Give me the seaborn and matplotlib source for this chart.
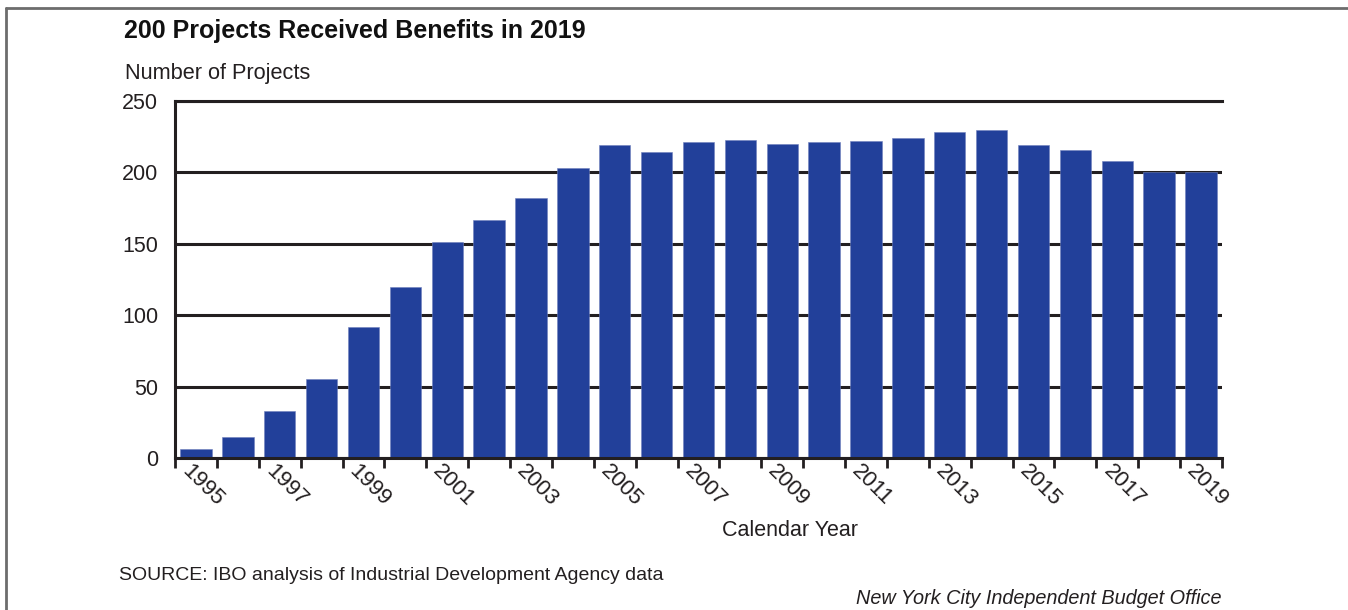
import matplotlib
matplotlib.use("Agg")
import matplotlib.pyplot as plt
from matplotlib.lines import Line2D
import seaborn as sns
import pandas as pd

# Projects receiving IDA benefits by calendar year
years = [str(y) for y in range(1995, 2020)]
projects = [6, 15, 33, 55, 92, 120, 151, 167, 182, 203, 219, 214, 221, 223,
            220, 221, 222, 224, 228, 230, 219, 216, 208, 200, 200]
labeled_years = years[::2]

title = "200 Projects Received Benefits in 2019"
y_title = "Number of Projects"
x_title = "Calendar Year"
source = "SOURCE: IBO analysis of Industrial Development Agency data"
credit = "New York City Independent Budget Office"

bar_color = "#22409a"
ink = "#231f20"

sns.set_theme(style="white")
plt.rcParams["font.family"] = ["Liberation Sans", "DejaVu Sans"]

df = pd.DataFrame({"year": years, "projects": projects})

fig = plt.figure(figsize=(13.48, 6.10), dpi=100)
ax = fig.add_axes([175 / 1348, 1 - 458 / 610, (1222 - 175) / 1348, (458 - 101) / 610])

sns.barplot(data=df, x="year", y="projects", color=bar_color, saturation=1,
            width=0.75, ax=ax, edgecolor="#6f80bd", linewidth=0.4, zorder=2)

ax.set_xlim(-0.5, len(years) - 0.5)
ax.set_ylim(0, 250)
ax.set_yticks([0, 50, 100, 150, 200, 250])
ax.set_axisbelow(True)
ax.yaxis.grid(True, color=ink, linewidth=2.2)
ax.tick_params(axis="y", length=0, pad=12, labelsize=15.5, labelcolor=ink)

# tick marks at the bar boundaries, labels on every other year
ax.set_xticks([i - 0.5 for i in range(len(years) + 1)])
ax.set_xticklabels([])
ax.tick_params(axis="x", direction="out", length=7, width=2, color=ink, bottom=True)
ax.set_xlabel("")
ax.set_ylabel("")
for i, yr in enumerate(years):
    if yr in labeled_years:
        ax.text(i - 0.44, -0.008, yr, transform=ax.get_xaxis_transform(),
                rotation=-45, ha="left", va="top", fontsize=16, color=ink)

for side in ["left", "bottom", "top"]:
    ax.spines[side].set_visible(True)
    ax.spines[side].set_color(ink)
    ax.spines[side].set_linewidth(2.2)
    ax.spines[side].set_zorder(3)
ax.spines["right"].set_visible(False)

fig.text(124 / 1348, 1 - 31 / 610, title, fontsize=18, fontweight="bold",
         color="#111111", ha="left", va="center")
fig.text(125 / 1348, 1 - 74 / 610, y_title, fontsize=15.7, color=ink,
         ha="left", va="center")
fig.text(790 / 1348, 1 - 531 / 610, x_title, fontsize=15.5, color=ink,
         ha="center", va="center")
fig.text(119 / 1348, 1 - 576 / 610, source, fontsize=14, color=ink,
         ha="left", va="center")
fig.text(1221 / 1348, 1 - 599 / 610, credit, fontsize=14.3, color=ink,
         style="italic", ha="right", va="center")

# outer frame (left and top edges)
fig.add_artist(Line2D([6 / 1348, 6 / 1348], [0, 1 - 8 / 610], color="#6d6d6d",
                      linewidth=2, transform=fig.transFigure))
fig.add_artist(Line2D([6 / 1348, 1], [1 - 8 / 610, 1 - 8 / 610], color="#6d6d6d",
                      linewidth=2, transform=fig.transFigure))

fig.savefig("out.png", dpi=100, facecolor="white")
